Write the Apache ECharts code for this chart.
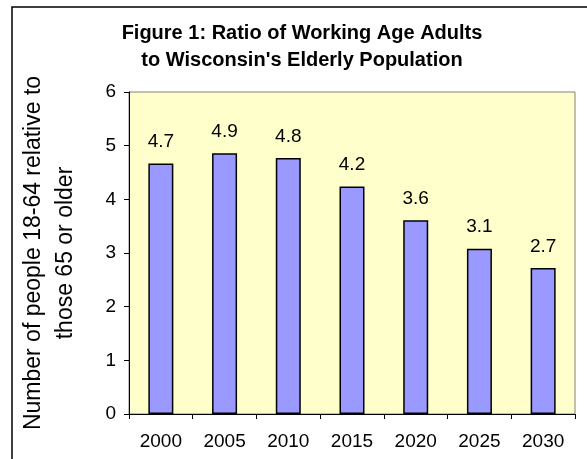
<!DOCTYPE html>
<html>
<head>
<meta charset="utf-8">
<script src="https://cdn.jsdelivr.net/npm/echarts@6/dist/echarts.min.js"></script>
<style>
html,body{margin:0;padding:0;background:#fff;}
#chart{width:587px;height:459px;}
</style>
</head>
<body>
<div id="chart"></div>
<script>
const categories = ['2000', '2005', '2010', '2015', '2020', '2025', '2030'];
const ratios = [4.67, 4.86, 4.77, 4.24, 3.61, 3.08, 2.72];
const titleLines = ['Figure 1: Ratio of Working Age Adults', "to Wisconsin's Elderly Population"];
const yAxisNameLines = ['Number of people 18-64 relative to', 'those 65 or older'];

const FONT = '"Liberation Sans", Arial, sans-serif';
const chart = echarts.init(document.getElementById('chart'), null, {renderer: 'canvas'});
chart.setOption({
  animation: false,
  backgroundColor: '#ffffff',
  graphic: [{
    type: 'rect',
    z: -10,
    shape: {x: 12, y: 7, width: 700, height: 600},
    style: {fill: '#ffffff', stroke: '#000000', lineWidth: 1.5}
  }],
  title: {
    text: titleLines.join('\n'),
    left: 297,
    top: 15,
    textAlign: 'center',
    textStyle: {fontFamily: FONT, fontWeight: 'bold', fontSize: 20, lineHeight: 27, color: '#000'}
  },
  grid: {
    left: 129, right: 12, top: 92, bottom: 45,
    show: true, backgroundColor: '#FFFFCC', borderColor: '#808080', borderWidth: 1
  },
  xAxis: {
    type: 'category',
    data: categories,
    boundaryGap: true,
    axisLine: {lineStyle: {color: '#000', width: 1}},
    axisTick: {show: true, length: 5, lineStyle: {color: '#000'}},
    axisLabel: {fontFamily: FONT, fontSize: 19, color: '#000', margin: 18}
  },
  yAxis: {
    type: 'value',
    min: 0, max: 6, interval: 1,
    name: yAxisNameLines.join('\n'),
    nameLocation: 'middle',
    nameGap: 47,
    nameTextStyle: {fontFamily: FONT, fontSize: 23, lineHeight: 32, color: '#000'},
    axisLine: {show: true, lineStyle: {color: '#000', width: 1}},
    axisTick: {show: true, length: 5, lineStyle: {color: '#000'}},
    splitLine: {show: false},
    axisLabel: {fontFamily: FONT, fontSize: 19, color: '#000', margin: 13}
  },
  series: [{
    type: 'bar',
    data: ratios,
    barWidth: 25,
    itemStyle: {color: '#9999FF', borderColor: '#000', borderWidth: 1.5},
    label: {
      show: true, position: 'top', distance: 12,
      fontFamily: FONT, fontSize: 19, color: '#000',
      formatter: p => p.value.toFixed(1)
    }
  }]
});
</script>
</body>
</html>
